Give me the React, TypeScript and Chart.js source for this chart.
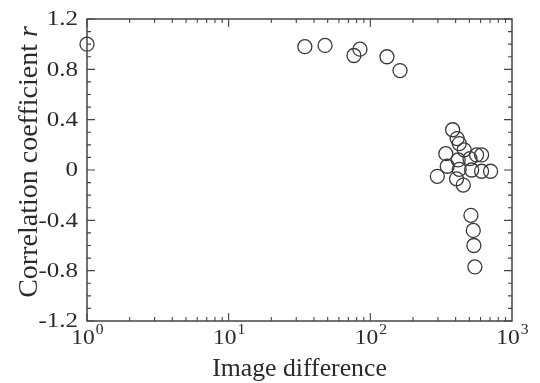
import React, { useEffect, useRef } from "react";
import { Chart, registerables } from "chart.js";

Chart.register(...registerables);

const imageDifference = [1, 34.5, 47.9, 76.6, 84.5, 131, 162, 381, 410, 424, 460, 341, 562, 610, 505, 417, 349, 424, 519, 610, 706, 297, 406, 453, 513, 533, 538, 547];
const correlation = [1.0, 0.98, 0.99, 0.91, 0.96, 0.9, 0.79, 0.32, 0.25, 0.21, 0.16, 0.13, 0.12, 0.12, 0.09, 0.08, 0.03, 0.005, 0.0, -0.01, -0.01, -0.05, -0.07, -0.12, -0.36, -0.48, -0.6, -0.77];

const yTickValues = [-1.2, -0.8, -0.4, 0, 0.4, 0.8, 1.2];
const yTickLabels = ["-1.2", "-0.8", "-0.4", "0", "0.4", "0.8", "1.2"];
const xTickValues = [1, 10, 100, 1000];
const xTickBases = ["10", "10", "10", "10"];
const xTickExponents = ["0", "1", "2", "3"];
const xTitle = "Image difference";
const yTitleMain = "Correlation coefficient ";
const yTitleSymbol = "r";

const FONT = "'Liberation Serif', 'DejaVu Serif', serif";
const INK = "#2a2a2a";
const AXIS = "#444";

const framePlugin = {
  id: "frameTicks",
  beforeDatasetsDraw(chart: any) {
    const { ctx, chartArea: a, scales } = chart;
    const xs = scales.x;
    const ys = scales.y;
    ctx.save();
    ctx.strokeStyle = AXIS;
    ctx.lineWidth = 1.5;
    ctx.strokeRect(a.left, a.top, a.right - a.left, a.bottom - a.top);
    ctx.lineWidth = 1.1;
    ctx.beginPath();
    for (let i = -12; i <= 12; i++) {
      const v = i / 10;
      const py = ys.getPixelForValue(v);
      const major = i % 4 === 0;
      const len = major ? 8 : 4;
      ctx.moveTo(a.left, py);
      ctx.lineTo(a.left + len, py);
      ctx.moveTo(a.right, py);
      ctx.lineTo(a.right - len, py);
    }
    for (let d = 0; d < 3; d++) {
      for (let m = 1; m <= 9; m++) {
        const v = m * Math.pow(10, d);
        const px = xs.getPixelForValue(v);
        const len = m === 1 ? 8 : 4;
        ctx.moveTo(px, a.bottom);
        ctx.lineTo(px, a.bottom - len);
        ctx.moveTo(px, a.top);
        ctx.lineTo(px, a.top + len);
      }
    }
    ctx.stroke();
    ctx.restore();
  },
  afterDraw(chart: any) {
    const { ctx, chartArea: a, scales } = chart;
    const xs = scales.x;
    const ys = scales.y;
    ctx.save();
    ctx.fillStyle = INK;
    ctx.textBaseline = "alphabetic";

    // y tick labels (horizontally widened like the reference)
    ctx.font = `20px ${FONT}`;
    ctx.textAlign = "right";
    ctx.textBaseline = "middle";
    yTickValues.forEach((v, i) => {
      const py = ys.getPixelForValue(v);
      ctx.save();
      ctx.translate(a.left - 9, py + 1);
      ctx.scale(1.25, 1);
      ctx.fillText(yTickLabels[i], 0, 0);
      ctx.restore();
    });

    // x tick labels with superscripts
    ctx.textAlign = "left";
    ctx.textBaseline = "alphabetic";
    const sx = 1.12;
    xTickValues.forEach((v, i) => {
      const px = xs.getPixelForValue(v);
      ctx.font = `21px ${FONT}`;
      const wb = ctx.measureText(xTickBases[i]).width * sx;
      ctx.font = `14px ${FONT}`;
      const we = ctx.measureText(xTickExponents[i]).width * sx;
      const start = px - (wb + we) / 2;
      ctx.save();
      ctx.translate(start, a.bottom + 23);
      ctx.scale(sx, 1);
      ctx.font = `21px ${FONT}`;
      ctx.fillText(xTickBases[i], 0, 0);
      ctx.restore();
      ctx.save();
      ctx.translate(start + wb + 1, a.bottom + 13);
      ctx.scale(sx, 1);
      ctx.font = `14px ${FONT}`;
      ctx.fillText(xTickExponents[i], 0, 0);
      ctx.restore();
    });

    // x title
    ctx.font = `25px ${FONT}`;
    ctx.textAlign = "center";
    ctx.save();
    ctx.translate((a.left + a.right) / 2, 376);
    ctx.scale(1.03, 1);
    ctx.fillText(xTitle, 0, 0);
    ctx.restore();

    // y title
    ctx.translate(37, 162);
    ctx.rotate(-Math.PI / 2);
    ctx.font = `28px ${FONT}`;
    const w1 = ctx.measureText(yTitleMain).width;
    ctx.font = `italic 28px ${FONT}`;
    const w2 = ctx.measureText(yTitleSymbol).width;
    const s = -(w1 + w2) / 2;
    ctx.textAlign = "left";
    ctx.font = `28px ${FONT}`;
    ctx.fillText(yTitleMain, s, 0);
    ctx.font = `italic 28px ${FONT}`;
    ctx.fillText(yTitleSymbol, s + w1, 0);
    ctx.restore();
  },
};

export default function App() {
  const ref = useRef<HTMLCanvasElement | null>(null);
  useEffect(() => {
    document.body.style.margin = "0";
    document.body.style.background = "#fff";
    if (!ref.current) return;
    const chart = new Chart(ref.current, {
      type: "scatter",
      data: {
        datasets: [
          {
            data: imageDifference.map((x, i) => ({ x, y: correlation[i] })),
            pointStyle: "circle",
            pointRadius: 7,
            pointBorderWidth: 1.3,
            pointBorderColor: "#3a3a3a",
            pointBackgroundColor: "rgba(0,0,0,0)",
            clip: false,
          } as any,
        ],
      },
      options: {
        responsive: false,
        animation: false,
        layout: { padding: { top: 19, right: 28, left: 0, bottom: 0 } },
        plugins: { legend: { display: false }, tooltip: { enabled: false } },
        scales: {
          x: {
            type: "logarithmic",
            min: 1,
            max: 1000,
            grid: { display: false, drawTicks: false },
            border: { display: false },
            ticks: { display: false },
            afterFit: (s: any) => {
              s.height = 62;
            },
          },
          y: {
            min: -1.2,
            max: 1.2,
            grid: { display: false, drawTicks: false },
            border: { display: false },
            afterBuildTicks: (s: any) => {
              s.ticks = yTickValues.map((v) => ({ value: v }));
            },
            ticks: { display: false },
            afterFit: (s: any) => {
              s.width = 87;
            },
          },
        },
      } as any,
      plugins: [framePlugin],
    });
    return () => chart.destroy();
  }, []);
  return <canvas ref={ref} width={540} height={383} style={{ display: "block" }} />;
}
